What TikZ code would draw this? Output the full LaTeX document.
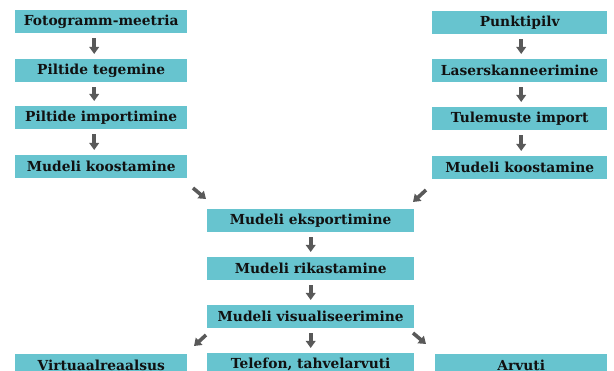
\documentclass[tikz,border=0pt]{standalone}
\usepackage{fontspec}
\setmainfont{DejaVu Serif}
\usetikzlibrary{arrows.meta}
\definecolor{boxteal}{HTML}{67C4CF}
\definecolor{arrgray}{HTML}{595959}
\definecolor{txt}{HTML}{111111}
\tikzset{
  stepbox/.style={fill=boxteal, draw=none, inner sep=0pt, minimum height=23pt,
    text=txt, font=\fontsize{13.8}{14}\selectfont\bfseries, anchor=north west},
  sidebox/.style={stepbox, minimum width=172pt},
  midbox/.style={stepbox, minimum width=207pt},
  arr/.style={draw=arrgray, line width=3.6pt, -{Triangle[width=9.5pt,length=7pt]}},
}
\begin{document}
\begin{tikzpicture}[x=1pt,y=-1pt]
\useasboundingbox (0,0) rectangle (614,371);
\clip (0,0) rectangle (614,371);
% left column
\node[sidebox] (l1) at (15,10) {Fotogramm-meetria};
\node[sidebox] (l2) at (15,59) {Piltide tegemine};
\node[sidebox] (l3) at (15,106) {Piltide importimine};
\node[sidebox] (l4) at (15,155) {Mudeli koostamine};
% right column
\node[sidebox, minimum width=175pt] (r1) at (432,11) {Punktipilv};
\node[sidebox, minimum width=175pt] (r2) at (432,59) {Laserskanneerimine};
\node[sidebox, minimum width=175pt] (r3) at (432,107) {Tulemuste import};
\node[sidebox, minimum width=175pt] (r4) at (432,156) {Mudeli koostamine};
% middle column
\node[midbox] (m1) at (207,209) {Mudeli eksportimine};
\node[midbox] (m2) at (207,257) {Mudeli rikastamine};
\node[midbox] (m3) at (207,305) {Mudeli visualiseerimine};
\node[midbox] (m4) at (207,353) {Telefon, tahvelarvuti};
% bottom
\node[sidebox] (b1) at (15,354) {Virtuaalreaalsus};
\node[sidebox] (b3) at (435,354) {Arvuti};
% vertical arrows
\foreach \a/\b in {l1/l2,l2/l3,l3/l4}
  \draw[arr, shorten <=5pt, shorten >=5pt] ([xshift=-7pt]\a.south) -- ([xshift=-7pt]\b.north);
\foreach \a/\b in {r1/r2,r2/r3,r3/r4}
  \draw[arr, shorten <=5pt, shorten >=5pt] ([xshift=1.5pt]\a.south) -- ([xshift=1.5pt]\b.north);
\foreach \a/\b in {m1/m2,m2/m3,m3/m4}
  \draw[arr, shorten <=5pt, shorten >=5pt] (\a.south) -- (\b.north);
% diagonal arrows
\coordinate (d1s) at (193,188); \coordinate (d1e) at (206,199);
\coordinate (d2s) at (426,190); \coordinate (d2e) at (413,202);
\coordinate (d3s) at (206,335); \coordinate (d3e) at (194,346);
\coordinate (d4s) at (413,333); \coordinate (d4e) at (426,344);
\draw[arr] (d1s) -- (d1e);
\draw[arr] (d2s) -- (d2e);
\draw[arr] (d3s) -- (d3e);
\draw[arr] (d4s) -- (d4e);
\end{tikzpicture}
\end{document}
